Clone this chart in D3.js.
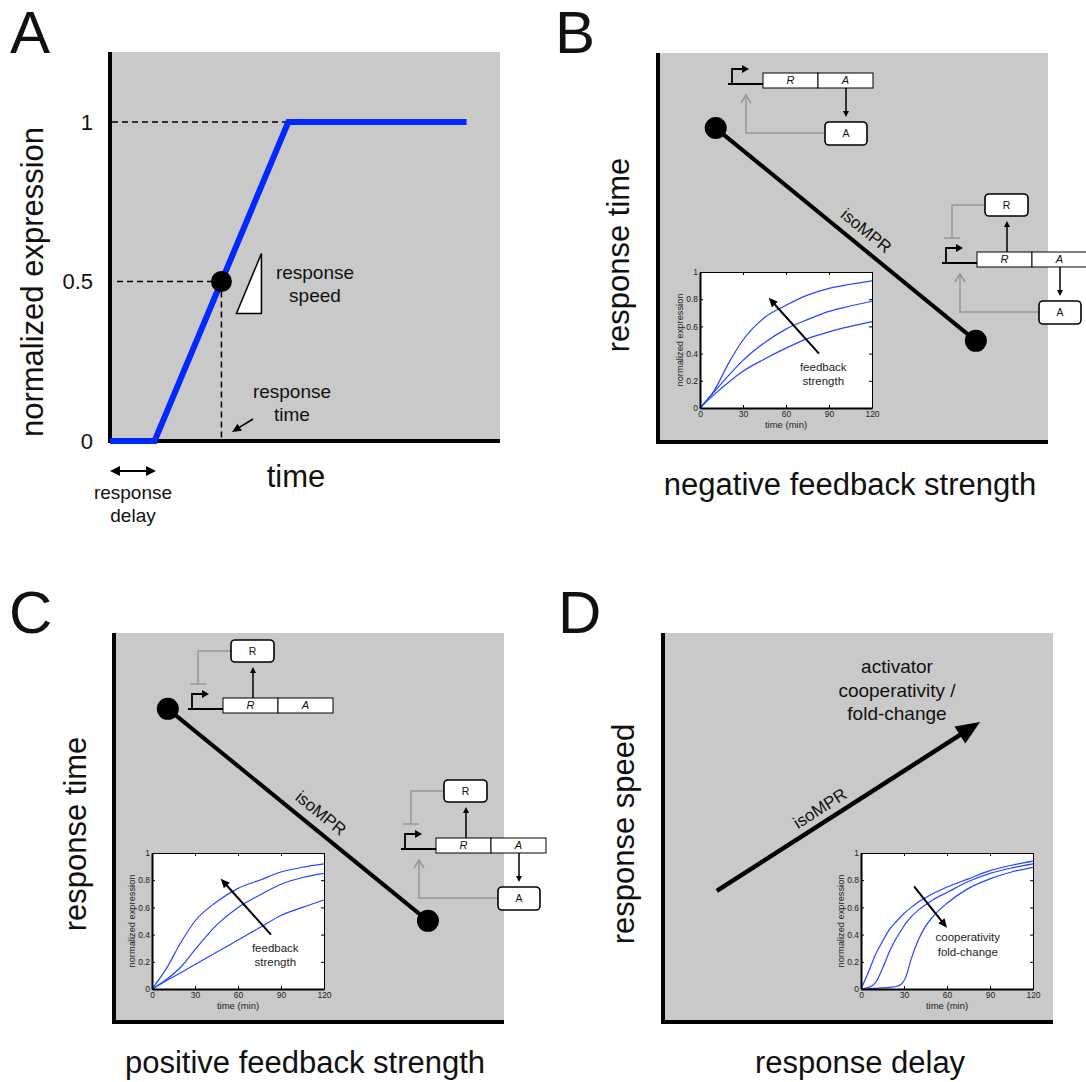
<!DOCTYPE html>
<html>
<head>
<meta charset="utf-8">
<script src="https://cdn.jsdelivr.net/npm/d3@7"></script>
<style>
  body { margin: 0; background: #fff; }
  svg text { font-family: "Liberation Sans", Arial, Helvetica, sans-serif; }
</style>
</head>
<body>
<svg id="fig" width="1086" height="1082"></svg>
<script>
// ---------- data ----------
// panel A: idealised response curve
const aTicks = [0, 0.5, 1];
const aTickLabels = ["0", "0.5", "1"];
const aTime = [0, 1, 4, 8];
const aExpr = [0, 0, 1, 1];
const aHalfTime = 2.5;
const aHalfExpr = 0.5;

// iso-MPR lines (panel units 0..1)
const isoNegX = [0.148, 0.815];
const isoNegY = [0.807, 0.26];
const isoPosX = [0.138, 0.805];
const isoPosY = [0.805, 0.26];
const coopX = [0.138, 0.813];
const coopY = [0.337, 0.771];

// insets
const insetXTicks = [0, 30, 60, 90, 120];
const insetYTicks = [0, 0.2, 0.4, 0.6, 0.8, 1];
const insetYLabels = ["0", "0.2", "0.4", "0.6", "0.8", "1"];

const fbTime = [0, 10, 20, 30, 45, 60, 75, 90, 105, 120];
const negStrong = [0, 0.13, 0.33, 0.50, 0.665, 0.755, 0.83, 0.88, 0.91, 0.935];
const negMid    = [0, 0.12, 0.24, 0.35, 0.48, 0.58, 0.65, 0.71, 0.75, 0.785];
const negWeak   = [0, 0.10, 0.19, 0.27, 0.36, 0.44, 0.51, 0.56, 0.60, 0.635];
const posWeak   = [0, 0.15, 0.34, 0.50, 0.64, 0.74, 0.80, 0.86, 0.895, 0.92];
const posMid    = [0, 0.07, 0.16, 0.29, 0.47, 0.60, 0.69, 0.77, 0.82, 0.85];
const posStrong = [0, 0.06, 0.12, 0.18, 0.27, 0.36, 0.45, 0.54, 0.60, 0.655];

const coopTime = [0, 5, 10, 15, 20, 25, 28, 31, 35, 40, 45, 50, 60, 75, 90, 105, 120];
const coopLow  = [0, 0.12, 0.25, 0.35, 0.44, 0.50, 0.535, 0.565, 0.60, 0.64, 0.67, 0.70, 0.75, 0.81, 0.87, 0.91, 0.94];
const coopMid  = [0, 0.01, 0.045, 0.15, 0.28, 0.38, 0.43, 0.48, 0.53, 0.58, 0.62, 0.655, 0.71, 0.79, 0.85, 0.89, 0.92];
const coopHigh = [0, 0.002, 0.005, 0.008, 0.012, 0.02, 0.035, 0.08, 0.22, 0.36, 0.46, 0.53, 0.63, 0.74, 0.81, 0.86, 0.895];

const fbArrowT = [83, 48];
const fbArrowV = [0.40, 0.81];
const fbLabelT = 86;
const fbLabelV = [0.30, 0.20];
const fbLabel = ["feedback", "strength"];
const coopArrowT = [37, 60];
const coopArrowV = [0.755, 0.45];
const coopLabelT = 74.5;
const coopLabelV = [0.38, 0.27];
const coopLabel = ["cooperativity", "fold-change"];

// ---------- helpers ----------
const svg = d3.select("#fig");
const GRAY_BG = "#c9c9c9";
const LOOP = "#979797";
const BLUE = "#0028ff";
const INSET_BLUE = "#2447ff";

function text(g, x, y, str, size, opts = {}) {
    let t = g.append("text")
        .attr("x", x).attr("y", y)
        .attr("font-size", size)
        .attr("text-anchor", opts.anchor || "middle")
        .attr("fill", opts.fill || "#111")
        .text(str);
    if (opts.italic) t.attr("font-style", "italic");
    if (opts.dy) t.attr("dy", opts.dy);
    if (opts.transform) t.attr("transform", opts.transform);
    return t;
}

function head(g, x1, y1, x2, y2, len, hw, color) {
    let a = Math.atan2(y2 - y1, x2 - x1);
    let bx = x2 - len * Math.cos(a), by = y2 - len * Math.sin(a);
    let px = -Math.sin(a) * hw, py = Math.cos(a) * hw;
    g.append("path")
        .attr("d", `M${x2},${y2}L${bx + px},${by + py}L${bx - px},${by - py}Z`)
        .attr("fill", color);
    return [x2 - len * 0.7 * Math.cos(a), y2 - len * 0.7 * Math.sin(a)];
}

function arrow(g, x1, y1, x2, y2, o = {}) {
    let len = o.len || 6, hw = o.hw || 3, color = o.color || "#000";
    let [ex, ey] = head(g, x1, y1, x2, y2, len, hw, color);
    let sx = x1, sy = y1;
    if (o.both) [sx, sy] = head(g, x2, y2, x1, y1, len, hw, color);
    g.append("line")
        .attr("x1", sx).attr("y1", sy).attr("x2", ex).attr("y2", ey)
        .attr("stroke", color).attr("stroke-width", o.width || 1.5);
}

function frame(x0, x1, top, bottom) {
    let g = svg.append("g");
    g.append("rect")
        .attr("x", x0).attr("y", top)
        .attr("width", x1 - x0).attr("height", bottom - top)
        .attr("fill", GRAY_BG);
    g.append("path")
        .attr("d", `M${x0},${top}V${bottom}H${x1}`)
        .attr("fill", "none").attr("stroke", "#000").attr("stroke-width", 4);
    return {
        g: g,
        x: d3.scaleLinear().domain([0, 1]).range([x0, x1]),
        y: d3.scaleLinear().domain([0, 1]).range([bottom, top])
    };
}

function isoLine(p, xs, ys, t, gap, withDots) {
    let x1 = p.x(xs[0]), y1 = p.y(ys[0]), x2 = p.x(xs[1]), y2 = p.y(ys[1]);
    if (withDots) {
        p.g.append("line")
            .attr("x1", x1).attr("y1", y1).attr("x2", x2).attr("y2", y2)
            .attr("stroke", "#000").attr("stroke-width", 4);
        p.g.selectAll(null).data([0, 1]).enter().append("circle")
            .attr("cx", i => p.x(xs[i])).attr("cy", i => p.y(ys[i]))
            .attr("r", 11).attr("fill", "#000");
    } else {
        arrow(p.g, x1, y1, x2, y2, {len: 24, hw: 10, width: 4.5});
    }
    let ang = Math.atan2(y2 - y1, x2 - x1) * 180 / Math.PI;
    let px = x1 + (x2 - x1) * t, py = y1 + (y2 - y1) * t;
    text(p.g, 0, -gap, "isoMPR", 17, {transform: `translate(${px},${py}) rotate(${ang})`});
}

function box(g, x, y, w, h, label, rounded, italic, size) {
    g.append("rect")
        .attr("x", x).attr("y", y).attr("width", w).attr("height", h)
        .attr("rx", rounded ? 4 : 0)
        .attr("fill", "#fff").attr("stroke", "#000")
        .attr("stroke-width", rounded ? 1.6 : 1);
    text(g, x + w / 2, y + h / 2, label, size, {italic: italic, dy: "0.36em"});
}

function geneCircuit(ox, oy, act, rep) {
    let g = svg.append("g");
    let grey = (d) => g.append("path").attr("d", d).attr("fill", "none")
        .attr("stroke", LOOP).attr("stroke-width", 1.5);
    if (act) {
        grey(`M${ox + 62},${oy + 60}H${ox - 17}V${oy + 22}`);
        grey(`M${ox - 22},${oy + 30}L${ox - 17},${oy + 22}L${ox - 12},${oy + 30}`);
        arrow(g, ox + 83, oy + 15, ox + 83, oy + 44, {len: 6, hw: 3});
        box(g, ox + 62, oy + 49, 42, 23, "A", true, false, 10.5);
    }
    if (rep) {
        grey(`M${ox + 8},${oy - 47}H${ox - 25}V${oy - 14}`);
        grey(`M${ox - 33},${oy - 14}H${ox - 17}`);
        arrow(g, ox + 30, oy, ox + 30, oy - 31, {len: 6, hw: 3});
        box(g, ox + 8, oy - 58, 43, 22, "R", true, false, 10.5);
    }
    // promoter
    g.append("path").attr("d", `M${ox - 35},${oy + 11}H${ox}M${ox - 31},${oy + 11}V${oy - 4}H${ox - 20}`)
        .attr("fill", "none").attr("stroke", "#000").attr("stroke-width", 1.8);
    g.append("path").attr("d", `M${ox - 21},${oy - 8}L${ox - 14},${oy - 4}L${ox - 21},${oy}Z`).attr("fill", "#000");
    box(g, ox, oy, 55, 15, "R", false, true, 11);
    box(g, ox + 55, oy, 55, 15, "A", false, true, 11);
}

function inset(left, top, time, series, arrT, arrV, labT, labV, labels) {
    let g = svg.append("g");
    let x = d3.scaleLinear().domain([0, 120]).range([left, left + 172]);
    let y = d3.scaleLinear().domain([0, 1]).range([top + 136, top]);
    g.append("rect").attr("x", left).attr("y", top).attr("width", 172).attr("height", 136).attr("fill", "#fff");

    let line = d3.line().x((d, i) => x(time[i])).y(d => y(d)).curve(d3.curveMonotoneX);
    g.selectAll(".curve").data(series).enter().append("path")
        .attr("d", line).attr("fill", "none")
        .attr("stroke", INSET_BLUE).attr("stroke-width", 1.2);

    let styleAxis = (ax, w) => {
        ax.select(".domain").attr("stroke", "#000").attr("stroke-width", w);
        ax.selectAll(".tick line").attr("stroke", "#000");
        ax.selectAll(".tick text").attr("font-size", 8.5).attr("fill", "#222")
            .attr("font-family", '"Liberation Sans", Arial, sans-serif');
    };
    styleAxis(g.append("g").attr("transform", `translate(0,${top})`)
        .call(d3.axisTop(x).tickValues(insetXTicks).tickSize(-3).tickSizeOuter(0).tickFormat("")), 1);
    styleAxis(g.append("g").attr("transform", `translate(${left + 172},0)`)
        .call(d3.axisRight(y).tickValues(insetYTicks).tickSize(-3).tickSizeOuter(0).tickFormat("")), 1);
    styleAxis(g.append("g").attr("transform", `translate(0,${top + 136})`)
        .call(d3.axisBottom(x).tickValues(insetXTicks).tickSize(-3).tickSizeOuter(0).tickPadding(3)), 2);
    styleAxis(g.append("g").attr("transform", `translate(${left},0)`)
        .call(d3.axisLeft(y).tickValues(insetYTicks).tickSize(-3).tickSizeOuter(0).tickPadding(2)
            .tickFormat((d, i) => insetYLabels[i])), 2);

    text(g, left + 86, top + 155.5, "time (min)", 9.5, {fill: "#222"});
    text(g, 0, 0, "normalized expression", 9.3,
        {fill: "#222", dy: "0.35em", transform: `translate(${left - 20},${top + 68}) rotate(-90)`});

    arrow(g, x(arrT[0]), y(arrV[0]), x(arrT[1]), y(arrV[1]), {len: 9, hw: 4, width: 2});
    labels.forEach((s, i) => text(g, x(labT), y(labV[i]), s, 11.5, {fill: "#222", dy: "0.35em"}));
}

// ---------- panel letters ----------
text(svg, 10, 53, "A", 60, {anchor: "start"});
text(svg, 555, 53, "B", 60, {anchor: "start"});
text(svg, 9, 633, "C", 60, {anchor: "start"});
text(svg, 558, 633, "D", 60, {anchor: "start"});

// ---------- panel A ----------
const pA = frame(110, 500, 52, 441);
const xA = d3.scaleLinear().domain([0, 8.75]).range([110, 500]);
const yA = d3.scaleLinear().domain([0, 1]).range([441, 122]);

pA.g.append("g").attr("transform", "translate(110,0)")
    .call(d3.axisLeft(yA).tickValues(aTicks).tickFormat((d, i) => aTickLabels[i]).tickSize(0).tickPadding(17))
    .call(ax => ax.select(".domain").remove())
    .selectAll("text").attr("font-size", 22).attr("fill", "#111")
    .attr("font-family", '"Liberation Sans", Arial, sans-serif');

const dash = (d) => pA.g.append("path").attr("d", d).attr("fill", "none")
    .attr("stroke", "#000").attr("stroke-width", 1.5).attr("stroke-dasharray", "6,4");
dash(`M112,${yA(1)}H${xA(aTime[2])}`);
dash(`M117,${yA(aHalfExpr)}H${xA(aHalfTime)}`);
dash(`M${xA(aHalfTime)},${yA(aHalfExpr)}V${yA(0)}`);

pA.g.append("path")
    .datum(aTime.map((t, i) => [t, aExpr[i]]))
    .attr("d", d3.line().x(d => xA(d[0])).y(d => yA(d[1])))
    .attr("fill", "none").attr("stroke", BLUE).attr("stroke-width", 6);

const hx = xA(aHalfTime), hy = yA(aHalfExpr);
pA.g.append("circle").attr("cx", hx).attr("cy", hy).attr("r", 10.5).attr("fill", "#000");
pA.g.append("path")
    .attr("d", `M${hx + 15},${hy + 32}L${hx + 40},${hy - 28}V${hy + 32}Z`)
    .attr("fill", "#fff").attr("stroke", "#000").attr("stroke-width", 1.5);

text(pA.g, 315, 279, "response", 19);
text(pA.g, 315, 302, "speed", 19);
text(pA.g, 292, 398, "response", 19);
text(pA.g, 292, 421, "time", 19);
arrow(pA.g, 253, 419, 232, 432, {len: 9, hw: 4, width: 1.5});

arrow(svg, 110, 471, 156, 471, {len: 10, hw: 5, width: 2, both: true});
text(svg, 133, 499, "response", 19);
text(svg, 133, 522, "delay", 19);
text(svg, 296, 487, "time", 31);
text(svg, 0, 0, "normalized expression", 31, {transform: "translate(43,282) rotate(-90)"});

// ---------- panel B ----------
const pB = frame(658, 1048, 53, 442);
isoLine(pB, isoNegX, isoNegY, 0.54, 10, true);
inset(700, 272, fbTime, [negStrong, negMid, negWeak], fbArrowT, fbArrowV, fbLabelT, fbLabelV, fbLabel);
geneCircuit(763, 73, true, false);
geneCircuit(977, 252, true, true);
text(svg, 850, 495, "negative feedback strength", 31);
text(svg, 0, 0, "response time", 31, {transform: "translate(629,255) rotate(-90)"});

// ---------- panel C ----------
const pC = frame(114, 504, 633, 1022);
isoLine(pC, isoPosX, isoPosY, 0.55, 10, true);
inset(152, 853, fbTime, [posWeak, posMid, posStrong], fbArrowT, fbArrowV, fbLabelT, fbLabelV, fbLabel);
geneCircuit(223, 698, false, true);
geneCircuit(436, 838, true, true);
text(svg, 305, 1073, "positive feedback strength", 31);
text(svg, 0, 0, "response time", 31, {transform: "translate(86,834) rotate(-90)"});

// ---------- panel D ----------
const pD = frame(663, 1053, 633, 1022);
isoLine(pD, coopX, coopY, 0.42, 8, false);
text(pD.g, 897, 673, "activator", 19);
text(pD.g, 897, 697, "cooperativity /", 19);
text(pD.g, 897, 720, "fold-change", 19);
inset(861, 853, coopTime, [coopLow, coopMid, coopHigh], coopArrowT, coopArrowV, coopLabelT, coopLabelV, coopLabel);
text(svg, 860, 1073, "response delay", 31);
text(svg, 0, 0, "response speed", 31, {transform: "translate(634,834) rotate(-90)"});
</script>
</body>
</html>
